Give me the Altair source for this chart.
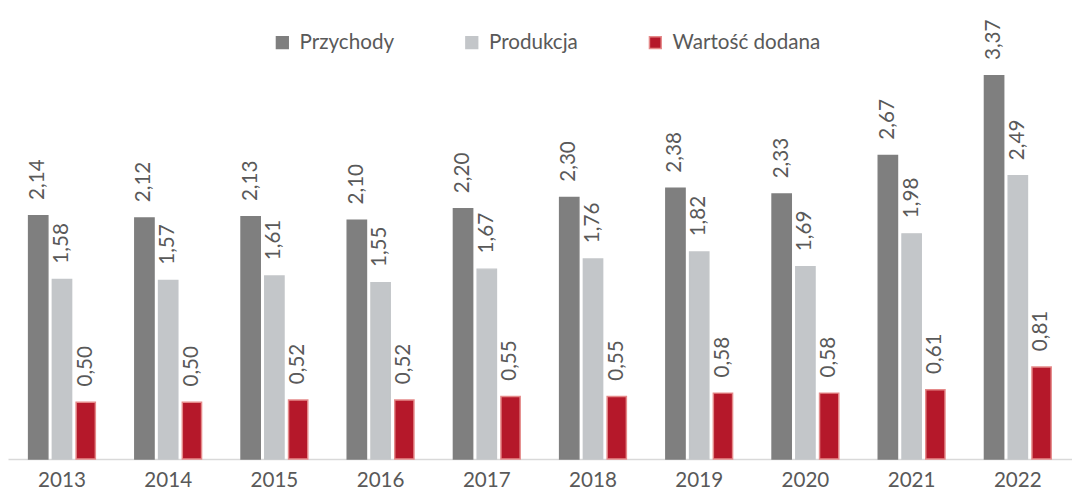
import altair as alt
import pandas as pd

years = ["2013", "2014", "2015", "2016", "2017", "2018", "2019", "2020", "2021", "2022"]
przychody = [2.14, 2.12, 2.13, 2.10, 2.20, 2.30, 2.38, 2.33, 2.67, 3.37]
produkcja = [1.58, 1.57, 1.61, 1.55, 1.67, 1.76, 1.82, 1.69, 1.98, 2.49]
wartosc = [0.50, 0.50, 0.52, 0.52, 0.55, 0.55, 0.58, 0.58, 0.61, 0.81]
series = ["Przychody", "Produkcja", "Wartość dodana"]
fills = ["#7f7f7f", "#c3c6c9", "#b5182a"]
strokes = ["#7f7f7f", "#c3c6c9", "#e58a8a"]

rows = []
for i, yr in enumerate(years):
    for s, vals in zip(series, [przychody, produkcja, wartosc]):
        rows.append({"year": yr, "series": s, "value": vals[i]})
df = pd.DataFrame(rows)

FONT = "Lato"
TXT = "#595959"

x = alt.X(
    "year:N",
    sort=years,
    scale=alt.Scale(range=[0, 1083.8], paddingInner=0.3715, paddingOuter=0.194),
    axis=alt.Axis(title=None, labelAngle=0, ticks=False, domainColor="#d9d9d9",
                  domainWidth=1.5, labelFont=FONT, labelFontSize=21,
                  labelColor=TXT, labelPadding=11),
)
xo = alt.XOffset("series:N", sort=series, scale=alt.Scale(paddingInner=0.19, paddingOuter=0))
y = alt.Y("value:Q", scale=alt.Scale(domain=[0, 3.926], nice=False, zero=True), axis=None)

base = alt.Chart(df).transform_calculate(
    label="replace(format(datum.value, '.2f'), '.', ',')"
)

bars = base.mark_bar(strokeWidth=1.5).encode(
    x=x,
    xOffset=xo,
    y=y,
    color=alt.Color(
        "series:N", sort=series,
        scale=alt.Scale(domain=series, range=fills),
        legend=alt.Legend(title=None, orient="none", legendX=269, legendY=20,
                          direction="horizontal", symbolType="square", symbolSize=144,
                          labelFontSize=21, labelFont=FONT, labelColor=TXT,
                          columnPadding=68, labelOffset=7, symbolStrokeWidth=1.5),
    ),
    stroke=alt.Stroke("series:N", sort=series,
                      scale=alt.Scale(domain=series, range=strokes),
                      legend=None),
)

labels = base.mark_text(angle=270, align="left", baseline="middle", dx=16,
                        font=FONT, fontSize=21, color=TXT).encode(
    x=x, xOffset=xo, y=y, text="label:N"
)

chart = (bars + labels).properties(
    width=1064, height=455, background="white",
    padding={"left": 0, "right": 0, "top": 0, "bottom": 0}
).configure_view(stroke=None)

chart.save("out.html", embed_options={"renderer": "svg", "actions": False})
